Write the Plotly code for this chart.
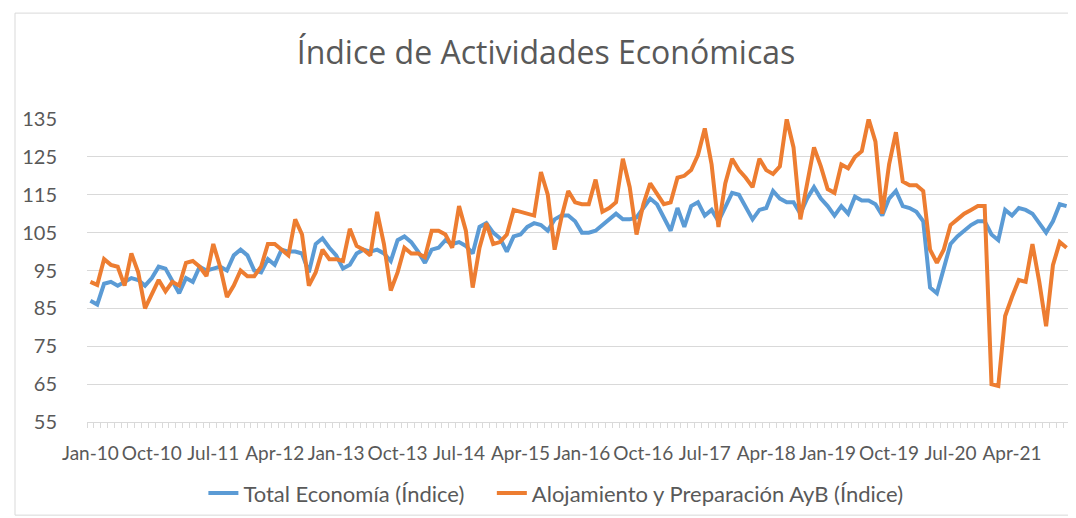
import pandas as pd
import plotly.graph_objects as go

# meses de Jan-10 a Dic-21
meses = pd.date_range("2010-01-01", periods=144, freq="MS").strftime("%b-%y").tolist()

tick_labels = ["Jan-10", "Oct-10", "Jul-11", "Apr-12", "Jan-13", "Oct-13", "Jul-14", "Apr-15",
               "Jan-16", "Oct-16", "Jul-17", "Apr-18", "Jan-19", "Oct-19", "Jul-20", "Apr-21"]

total_economia = [
    87, 86, 91.5, 92, 91, 92, 93, 92.5, 91, 93,
    96, 95.5, 92, 89, 93, 92, 96, 95, 95.5, 96,
    95, 99, 100.5, 99, 95, 94.5, 98, 96.5, 100.5, 100,
    100, 99.5, 94.5, 102, 103.5, 101, 99, 95.5,
    96.5, 99.5, 100.5, 100, 100.5, 99.5, 97.5, 103, 104, 102.5,
    100, 97, 100.5, 101, 103, 102, 102.5, 101.5, 99.5, 106.5,
    107.5, 105, 103.5, 100, 104, 104.5, 106.5, 107.5, 107, 105.5,
    108.5, 109.5, 109.5, 108, 105, 105, 105.5, 107, 108.5, 110,
    108.5, 108.5, 109, 111.5, 114, 112.5, 109, 105.5, 111.5, 106.5,
    112, 113, 109.5, 111, 108, 112, 115.5, 115, 112, 108.5,
    111, 111.5, 116, 114, 113, 113, 110, 114, 117, 114,
    112, 109.5, 112, 110, 114.5, 113.5, 113.5, 112.5, 109.5, 114,
    116, 112, 111.5, 110.5, 108, 90.5, 89, 95.5, 102, 104,
    105.5, 107, 108, 108, 104.5, 103, 111, 109.5, 111.5, 111,
    110, 107.5, 105, 108, 112.5, 112,
]

alojamiento = [
    92, 91.2, 98, 96.5, 96, 91, 99.5, 94.5, 85, 88.5,
    92.5, 89.5, 92, 91, 97, 97.5, 96, 93.5, 102, 96,
    88, 91, 95, 93.5, 93.5, 96, 102, 102, 100.5, 99,
    108.5, 104.5, 91, 94.5, 100.5, 98, 98, 97.5,
    106, 101.5, 100.5, 99, 110.5, 102, 89.7, 94.5, 101, 99.5,
    99.5, 98.5, 105.5, 105.5, 104.5, 101, 112, 105.5, 90.5, 101,
    107.5, 102, 102.5, 104.5, 111, 110.5, 110, 109.5, 121, 115,
    100.5, 109, 116, 113, 112.5, 112.5, 119, 110.5, 111.5, 113,
    124.5, 117, 104.5, 112.5, 118, 115, 112.5, 113, 119.5, 120,
    121.5, 125.5, 132.5, 123, 106.5, 118, 124.5, 121.5, 119.5, 117,
    124.5, 121.5, 120.5, 122.5, 135, 127.5, 108.5, 118, 127.5, 122.5,
    116.5, 115.5, 123, 122, 125, 126.5, 135, 129, 110, 123,
    131.5, 118.5, 117.5, 117.5, 116, 100.5, 97, 100.5, 107, 108.5,
    110, 111, 112, 112, 65, 64.5, 83, 88, 92.5, 92,
    102, 92, 80.3, 96.4, 102.5, 101,
]

x_idx = list(range(len(meses)))
tick_pos = [meses.index(t) for t in tick_labels]

fig = go.Figure()
fig.add_trace(go.Scatter(x=x_idx, y=total_economia, mode="lines",
                         name="Total Economía (Índice)\u00a0\u00a0\u00a0\u00a0",
                         line=dict(color="#5B9BD5", width=4)))
fig.add_trace(go.Scatter(x=x_idx, y=alojamiento, mode="lines", name="Alojamiento y Preparación AyB (Índice)",
                         line=dict(color="#ED7D31", width=4)))

fig.update_layout(
    width=1076, height=518,
    paper_bgcolor="white", plot_bgcolor="white",
    margin=dict(l=79, r=14, t=111, b=98),
    font=dict(family="Lato", color="#595959"),
    title=dict(text="Índice de Actividades Económicas", x=0.5, xref="container", xanchor="center",
               y=1 - 45 / 518, yanchor="middle", font=dict(family="Open Sans", size=32, color="#595959")),
    legend=dict(orientation="h", x=0.477, xanchor="center", y=-0.235, yanchor="middle",
                font=dict(size=22, color="#595959"), bgcolor="rgba(0,0,0,0)"),
    showlegend=True,
)

fig.update_xaxes(
    range=[-0.5, 143.5], tickvals=tick_pos, ticktext=tick_labels, tickangle=0,
    ticks="", showgrid=False, zeroline=False,
    showline=True, linecolor="#d9d9d9", linewidth=1,
    tickfont=dict(size=19, color="#595959"), ticklabelstandoff=14,
    minor=dict(ticks="outside", tick0=-0.5, dtick=1, ticklen=5, tickcolor="#d9d9d9", showgrid=False),
)
fig.update_yaxes(
    range=[55, 135], tick0=55, dtick=10, showline=False, zeroline=False,
    gridcolor="#d9d9d9", gridwidth=1,
    tickfont=dict(size=20, color="#595959"), ticklabelstandoff=29,
)

# marco del gráfico
fig.add_shape(type="rect", xref="paper", yref="paper",
              x0=(7 - 79) / 983, x1=(1069 - 79) / 983, y0=(420 - 515) / 309, y1=(420 - 3) / 309,
              line=dict(color="#d9d9d9", width=1), fillcolor="rgba(0,0,0,0)", layer="below")

fig.write_html("out.html")
